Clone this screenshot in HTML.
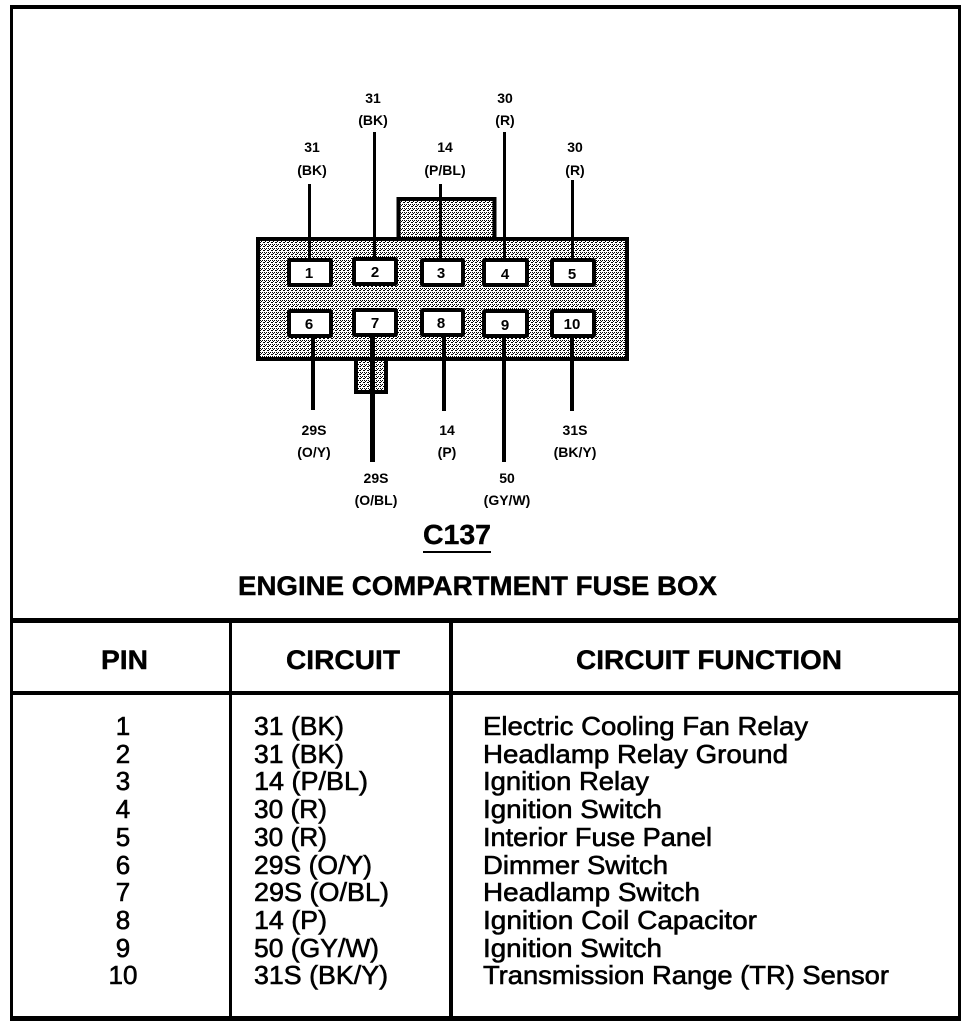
<!DOCTYPE html>
<html><head><meta charset="utf-8"><style>
html,body{margin:0;padding:0;background:#fff}
svg{display:block}
text{font-family:"Liberation Sans",sans-serif;fill:#000}
.s{font-size:14px;font-weight:bold;text-anchor:middle}
.n{font-size:15px;font-weight:bold;text-anchor:middle}
.h{font-size:27px;font-weight:bold;stroke:#000;stroke-width:.4}
.t{font-size:26px;stroke:#000;stroke-width:.6}
</style></head><body>
<svg width="976" height="1028" viewBox="0 0 976 1028" xmlns="http://www.w3.org/2000/svg">
<defs><pattern id="d" width="4" height="4" patternUnits="userSpaceOnUse"><rect width="4" height="4" fill="#fff"/><rect x="0" y="0" width="1" height="1" fill="#000"/><rect x="2" y="0" width="1" height="1" fill="#000"/><rect x="1" y="1" width="1" height="1" fill="#000"/><rect x="3" y="2" width="1" height="1" fill="#000"/><rect x="0" y="2" width="1" height="1" fill="#000"/></pattern></defs>
<rect width="976" height="1028" fill="#fff"/>
<g fill="#000">
<rect x="10" y="5" width="951" height="4"/>
<rect x="10" y="5" width="3" height="1016"/>
<rect x="958" y="5" width="3" height="1016"/>
<rect x="10" y="1016" width="951" height="5"/>
<rect x="10" y="618" width="950" height="5"/>
<rect x="10" y="691" width="950" height="4"/>
<rect x="229" y="620" width="3" height="398"/>
<rect x="449" y="620" width="4" height="398"/>
</g>

<rect x="398.500" y="199" width="96" height="40" fill="url(#d)" stroke="#000" stroke-width="4"/>
<rect x="356" y="359" width="30" height="33" fill="url(#d)" stroke="#000" stroke-width="4"/>
<rect x="258" y="239" width="369" height="120" fill="url(#d)" stroke="#000" stroke-width="4"/>

<g fill="#000">
<rect x="308" y="184" width="3" height="74"/><rect x="373" y="132" width="3" height="126"/>
<rect x="439" y="184" width="3" height="74"/><rect x="503" y="132" width="3" height="126"/>
<rect x="571" y="180" width="3" height="78"/>
<rect x="311" y="336" width="4" height="74"/><rect x="370" y="336" width="5" height="126"/>
<rect x="442" y="336" width="4" height="75"/><rect x="502" y="336" width="4" height="126"/>
<rect x="570" y="336" width="4" height="75"/>
</g>
<g fill="#fff" stroke="#000" stroke-width="4">
<rect x="289" y="260" width="42" height="25" rx="1"/><rect x="354" y="259" width="42" height="25" rx="1"/>
<rect x="422" y="260" width="41" height="25" rx="1"/><rect x="484" y="260" width="43" height="25" rx="1"/>
<rect x="552" y="260" width="42" height="25" rx="1"/>
<rect x="289" y="311" width="42" height="25" rx="1"/><rect x="354" y="310" width="42" height="25" rx="1"/>
<rect x="422" y="310" width="41" height="25" rx="1"/><rect x="484" y="311" width="43" height="25" rx="1"/>
<rect x="552" y="311" width="42" height="25" rx="1"/>
</g>
<text class="n" x="309" y="278">1</text><text class="n" x="375" y="277">2</text><text class="n" x="441" y="278">3</text><text class="n" x="505" y="279">4</text><text class="n" x="572" y="279">5</text>
<text class="n" x="309" y="329">6</text><text class="n" x="375" y="328">7</text><text class="n" x="441" y="328">8</text><text class="n" x="505" y="330">9</text><text class="n" x="572" y="329">10</text>

<text class="s" x="312" y="152">31</text><text class="s" x="312" y="175">(BK)</text>
<text class="s" x="373" y="103">31</text><text class="s" x="373" y="125">(BK)</text>
<text class="s" x="445" y="152">14</text><text class="s" x="445" y="175">(P/BL)</text>
<text class="s" x="505" y="103">30</text><text class="s" x="505" y="125">(R)</text>
<text class="s" x="575" y="152">30</text><text class="s" x="575" y="175">(R)</text>
<text class="s" x="314" y="435">29S</text><text class="s" x="314" y="457">(O/Y)</text>
<text class="s" x="376" y="483">29S</text><text class="s" x="376" y="505">(O/BL)</text>
<text class="s" x="447" y="435">14</text><text class="s" x="447" y="457">(P)</text>
<text class="s" x="507" y="483">50</text><text class="s" x="507" y="505">(GY/W)</text>
<text class="s" x="575" y="435">31S</text><text class="s" x="575" y="457">(BK/Y)</text>

<text x="423" y="544" font-size="28" font-weight="bold" stroke="#000" stroke-width=".4" textLength="68" lengthAdjust="spacingAndGlyphs">C137</text>
<rect x="423" y="551" width="68" height="2" fill="#000"/>
<text x="238" y="595" font-size="27" font-weight="bold" stroke="#000" stroke-width=".4" textLength="479" lengthAdjust="spacingAndGlyphs">ENGINE COMPARTMENT FUSE BOX</text>

<text class="h" x="101" y="669" textLength="47" lengthAdjust="spacingAndGlyphs">PIN</text>
<text class="h" x="286" y="669" textLength="114" lengthAdjust="spacingAndGlyphs">CIRCUIT</text>
<text class="h" x="576" y="669" textLength="266" lengthAdjust="spacingAndGlyphs">CIRCUIT FUNCTION</text>

<g text-anchor="middle">
<text class="t" x="123" y="735">1</text><text class="t" x="123" y="763">2</text><text class="t" x="123" y="790">3</text><text class="t" x="123" y="818">4</text><text class="t" x="123" y="846">5</text><text class="t" x="123" y="874">6</text><text class="t" x="123" y="901">7</text><text class="t" x="123" y="929">8</text><text class="t" x="123" y="957">9</text><text class="t" x="123" y="984">10</text>
</g>
<g>
<text class="t" x="254" y="735" textLength="90" lengthAdjust="spacingAndGlyphs">31 (BK)</text>
<text class="t" x="254" y="763" textLength="90" lengthAdjust="spacingAndGlyphs">31 (BK)</text>
<text class="t" x="254" y="790" textLength="114" lengthAdjust="spacingAndGlyphs">14 (P/BL)</text>
<text class="t" x="254" y="818" textLength="73" lengthAdjust="spacingAndGlyphs">30 (R)</text>
<text class="t" x="254" y="846" textLength="73" lengthAdjust="spacingAndGlyphs">30 (R)</text>
<text class="t" x="254" y="874" textLength="118" lengthAdjust="spacingAndGlyphs">29S (O/Y)</text>
<text class="t" x="254" y="901" textLength="135" lengthAdjust="spacingAndGlyphs">29S (O/BL)</text>
<text class="t" x="254" y="929" textLength="73" lengthAdjust="spacingAndGlyphs">14 (P)</text>
<text class="t" x="254" y="957" textLength="125" lengthAdjust="spacingAndGlyphs">50 (GY/W)</text>
<text class="t" x="254" y="984" textLength="134" lengthAdjust="spacingAndGlyphs">31S (BK/Y)</text>
<text class="t" x="483" y="735" textLength="325" lengthAdjust="spacingAndGlyphs">Electric Cooling Fan Relay</text>
<text class="t" x="483" y="763" textLength="305" lengthAdjust="spacingAndGlyphs">Headlamp Relay Ground</text>
<text class="t" x="483" y="790" textLength="166" lengthAdjust="spacingAndGlyphs">Ignition Relay</text>
<text class="t" x="483" y="818" textLength="179" lengthAdjust="spacingAndGlyphs">Ignition Switch</text>
<text class="t" x="483" y="846" textLength="229" lengthAdjust="spacingAndGlyphs">Interior Fuse Panel</text>
<text class="t" x="483" y="874" textLength="185" lengthAdjust="spacingAndGlyphs">Dimmer Switch</text>
<text class="t" x="483" y="901" textLength="217" lengthAdjust="spacingAndGlyphs">Headlamp Switch</text>
<text class="t" x="483" y="929" textLength="274" lengthAdjust="spacingAndGlyphs">Ignition Coil Capacitor</text>
<text class="t" x="483" y="957" textLength="179" lengthAdjust="spacingAndGlyphs">Ignition Switch</text>
<text class="t" x="483" y="984" textLength="406" lengthAdjust="spacingAndGlyphs">Transmission Range (TR) Sensor</text>
</g>
</svg>
</body></html>
